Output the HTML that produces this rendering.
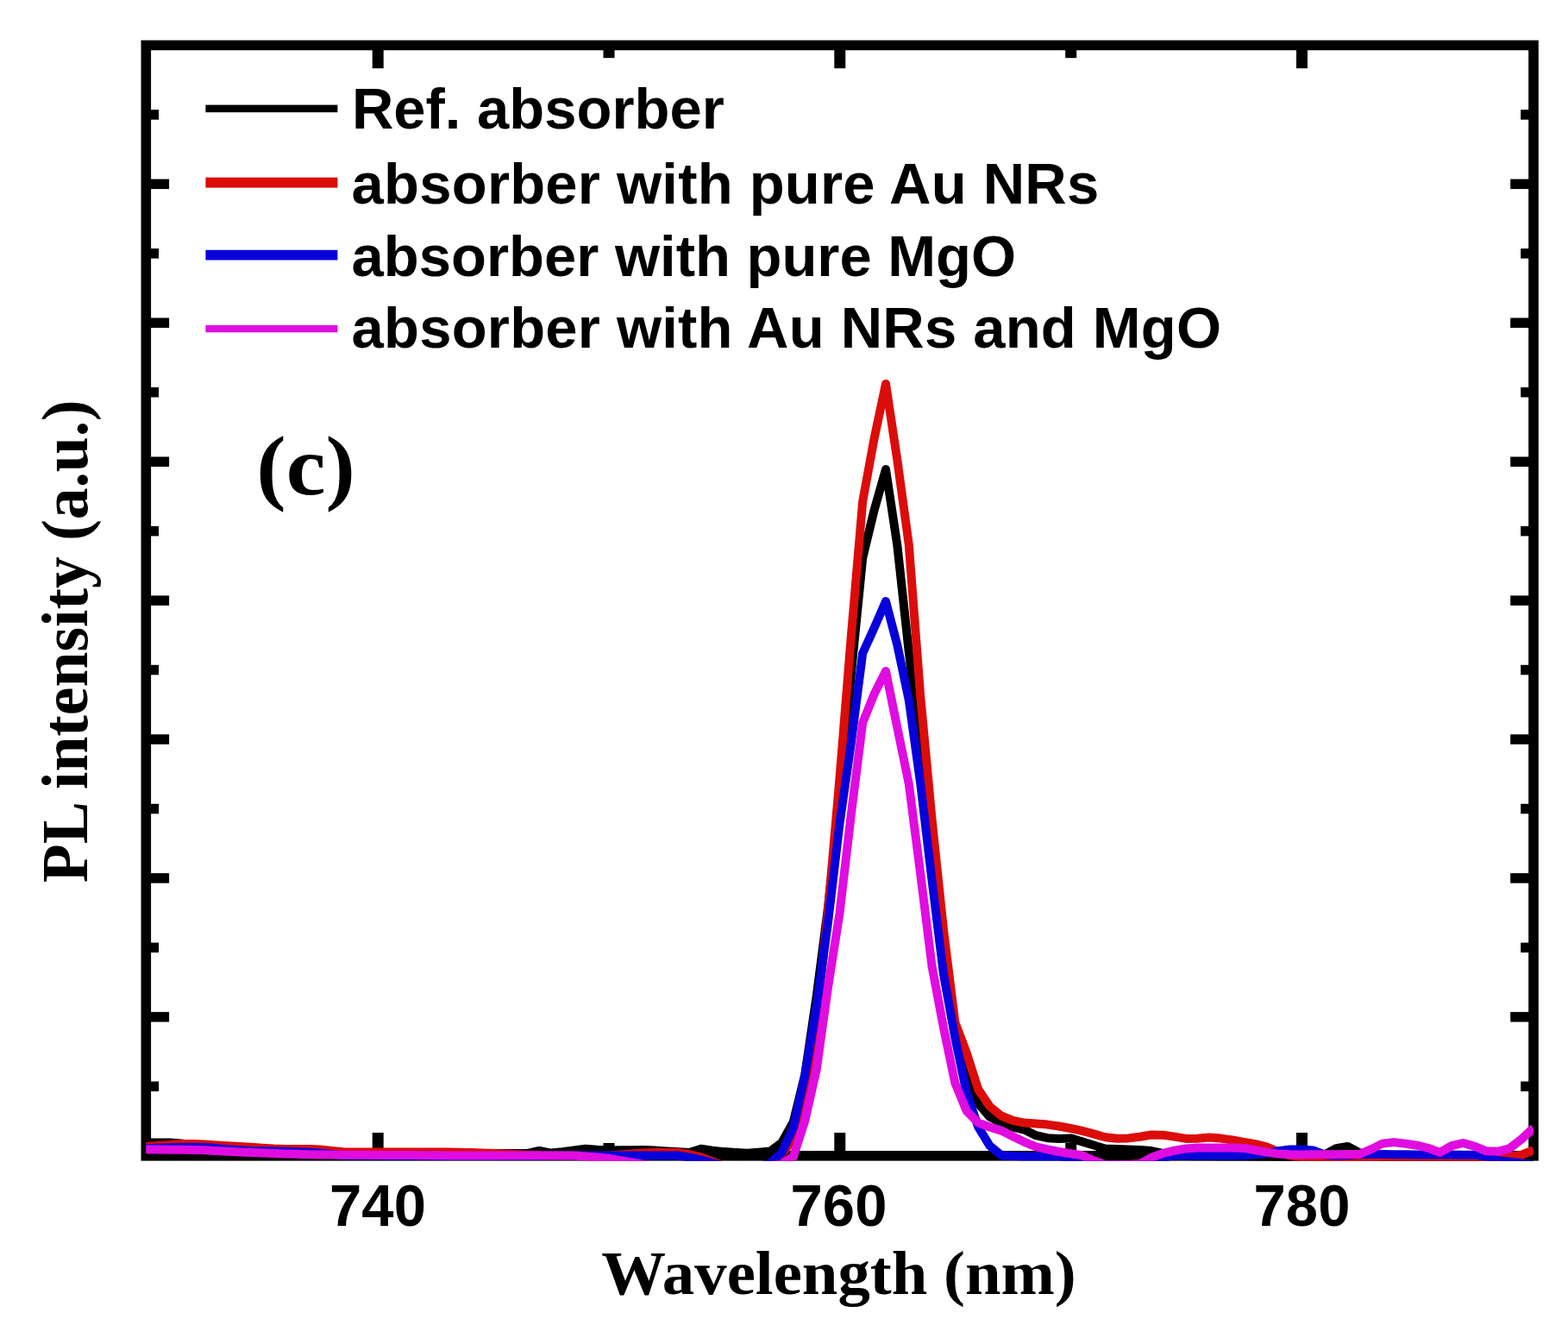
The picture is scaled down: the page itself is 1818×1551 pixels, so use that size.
<!DOCTYPE html>
<html><head><meta charset="utf-8"><style>
html,body{margin:0;padding:0;background:#fff;}
svg{display:block;}
.s{font-family:"Liberation Sans",Arial,sans-serif;font-weight:bold;}
.t{font-family:"Liberation Serif","Times New Roman",serif;font-weight:bold;}
</style></head><body>
<svg width="1818" height="1551" viewBox="0 0 1818 1551">
<rect width="1818" height="1551" fill="#fff"/>
<defs><clipPath id="pc"><rect x="169.3" y="0" width="1608.7" height="1345.8"/></clipPath></defs>
<rect x="169.3" y="52.45" width="1608.7" height="1287.35" fill="none" stroke="#000" stroke-width="11.6"/>
<g fill="#000"><rect x="431.7" y="1313.0" width="13" height="22"/><rect x="431.7" y="57.2" width="13" height="22"/><rect x="699.5" y="1325.0" width="13" height="10"/><rect x="699.5" y="57.2" width="13" height="10"/><rect x="967.3" y="1313.0" width="13" height="22"/><rect x="967.3" y="57.2" width="13" height="22"/><rect x="1235.2" y="1325.0" width="13" height="10"/><rect x="1235.2" y="57.2" width="13" height="10"/><rect x="1503.0" y="1313.0" width="13" height="22"/><rect x="1503.0" y="57.2" width="13" height="22"/><rect x="174.1" y="127.2" width="10" height="11.5"/><rect x="1763.2" y="127.2" width="10" height="11.5"/><rect x="174.1" y="207.6" width="22" height="11.5"/><rect x="1751.2" y="207.6" width="22" height="11.5"/><rect x="174.1" y="288.1" width="10" height="11.5"/><rect x="1763.2" y="288.1" width="10" height="11.5"/><rect x="174.1" y="368.5" width="22" height="11.5"/><rect x="1751.2" y="368.5" width="22" height="11.5"/><rect x="174.1" y="449.0" width="10" height="11.5"/><rect x="1763.2" y="449.0" width="10" height="11.5"/><rect x="174.1" y="529.5" width="22" height="11.5"/><rect x="1751.2" y="529.5" width="22" height="11.5"/><rect x="174.1" y="609.9" width="10" height="11.5"/><rect x="1763.2" y="609.9" width="10" height="11.5"/><rect x="174.1" y="690.4" width="22" height="11.5"/><rect x="1751.2" y="690.4" width="22" height="11.5"/><rect x="174.1" y="770.8" width="10" height="11.5"/><rect x="1763.2" y="770.8" width="10" height="11.5"/><rect x="174.1" y="851.3" width="22" height="11.5"/><rect x="1751.2" y="851.3" width="22" height="11.5"/><rect x="174.1" y="931.8" width="10" height="11.5"/><rect x="1763.2" y="931.8" width="10" height="11.5"/><rect x="174.1" y="1012.2" width="22" height="11.5"/><rect x="1751.2" y="1012.2" width="22" height="11.5"/><rect x="174.1" y="1092.7" width="10" height="11.5"/><rect x="1763.2" y="1092.7" width="10" height="11.5"/><rect x="174.1" y="1173.1" width="22" height="11.5"/><rect x="1751.2" y="1173.1" width="22" height="11.5"/><rect x="174.1" y="1253.6" width="10" height="11.5"/><rect x="1763.2" y="1253.6" width="10" height="11.5"/></g>
<g clip-path="url(#pc)" fill="none" stroke-width="10" stroke-linejoin="round" stroke-linecap="butt">
<path d="M169.0,1324.5 L170.0,1324.5 L183.4,1324.5 L196.8,1324.5 L210.2,1325.5 L223.6,1328.1 L237.0,1330.2 L250.4,1331.6 L263.8,1333.1 L277.2,1334.6 L290.5,1336.0 L303.9,1336.4 L317.3,1336.7 L330.7,1337.1 L344.1,1337.5 L357.5,1337.8 L370.9,1338.2 L384.3,1338.6 L397.7,1338.9 L411.1,1338.8 L424.4,1338.7 L437.8,1338.5 L451.2,1338.3 L464.6,1338.1 L478.0,1337.9 L491.4,1337.7 L504.8,1337.5 L518.2,1337.3 L531.6,1337.1 L545.0,1337.0 L558.3,1337.0 L571.7,1337.0 L585.1,1337.0 L598.5,1337.0 L611.9,1337.0 L625.3,1334.0 L638.7,1336.6 L652.1,1335.3 L665.5,1333.5 L678.9,1331.7 L692.2,1332.7 L705.6,1333.4 L719.0,1333.3 L732.4,1333.2 L745.8,1333.0 L759.2,1333.6 L772.6,1334.4 L786.0,1335.2 L799.4,1336.0 L812.8,1331.7 L826.1,1333.6 L839.5,1335.1 L852.9,1335.9 L866.3,1336.8 L879.7,1335.7 L893.1,1334.5 L906.5,1324.5 L919.9,1300.3 L933.3,1245.6 L946.7,1155.1 L960.0,1052.4 L973.4,925.6 L986.8,781.7 L1000.2,646.7 L1013.6,591.3 L1027.0,544.0 L1040.4,632.6 L1053.8,755.9 L1067.2,868.8 L1080.6,989.1 L1094.0,1103.9 L1107.3,1196.0 L1120.7,1245.0 L1134.1,1279.0 L1147.5,1294.7 L1160.9,1301.9 L1174.3,1306.7 L1187.7,1309.5 L1201.1,1316.2 L1214.5,1319.2 L1227.8,1319.9 L1241.2,1319.4 L1254.6,1323.4 L1268.0,1327.6 L1281.4,1331.5 L1294.8,1331.9 L1308.2,1332.4 L1321.6,1333.1 L1335.0,1334.1 L1348.4,1336.8 L1361.8,1340.0 L1375.1,1340.1 L1388.5,1340.2 L1401.9,1340.3 L1415.3,1340.4 L1428.7,1340.5 L1442.1,1340.6 L1455.5,1340.7 L1468.9,1340.8 L1482.3,1340.9 L1495.7,1341.0 L1509.0,1340.3 L1522.4,1339.3 L1535.8,1338.3 L1549.2,1331.1 L1562.6,1329.0 L1576.0,1336.2 L1589.4,1338.9 L1602.8,1341.0 L1616.2,1341.0 L1629.6,1341.0 L1642.9,1341.0 L1656.3,1341.0 L1669.7,1341.0 L1683.1,1341.0 L1696.5,1341.0 L1709.9,1341.0 L1723.3,1341.0 L1736.7,1341.0 L1750.1,1341.0 L1763.5,1341.0 L1776.8,1341.0 L1778.0,1341.0" stroke="#000"/>
<path d="M169.0,1329.0 L170.0,1328.9 L183.4,1327.9 L196.8,1326.9 L210.2,1326.0 L223.6,1326.0 L237.0,1326.6 L250.4,1327.5 L263.8,1328.2 L277.2,1329.0 L290.5,1329.8 L303.9,1330.7 L317.3,1331.5 L330.7,1332.0 L344.1,1332.0 L357.5,1332.0 L370.9,1332.6 L384.3,1333.9 L397.7,1335.3 L411.1,1335.5 L424.4,1335.5 L437.8,1335.5 L451.2,1335.5 L464.6,1335.5 L478.0,1335.5 L491.4,1335.5 L504.8,1335.5 L518.2,1335.5 L531.6,1335.8 L545.0,1336.1 L558.3,1336.5 L571.7,1337.0 L585.1,1337.5 L598.5,1338.1 L611.9,1338.7 L625.3,1339.1 L638.7,1339.2 L652.1,1339.4 L665.5,1339.6 L678.9,1339.7 L692.2,1339.9 L705.6,1339.6 L719.0,1338.6 L732.4,1337.6 L745.8,1336.6 L759.2,1336.0 L772.6,1336.0 L786.0,1336.0 L799.4,1338.1 L812.8,1341.4 L826.1,1346.5 L839.5,1351.8 L852.9,1352.0 L866.3,1352.0 L879.7,1352.0 L893.1,1349.1 L906.5,1337.7 L919.9,1320.2 L933.3,1276.5 L946.7,1184.3 L960.0,1056.0 L973.4,903.4 L986.8,738.1 L1000.2,581.4 L1013.6,508.3 L1027.0,445.0 L1040.4,533.7 L1053.8,631.6 L1067.2,807.1 L1080.6,950.4 L1094.0,1078.1 L1107.3,1185.0 L1120.7,1220.4 L1134.1,1262.6 L1147.5,1282.5 L1160.9,1293.5 L1174.3,1298.8 L1187.7,1301.6 L1201.1,1302.6 L1214.5,1303.6 L1227.8,1305.5 L1241.2,1308.0 L1254.6,1310.8 L1268.0,1314.4 L1281.4,1318.2 L1294.8,1319.8 L1308.2,1319.4 L1321.6,1317.7 L1335.0,1315.5 L1348.4,1315.7 L1361.8,1317.6 L1375.1,1319.9 L1388.5,1319.8 L1401.9,1318.6 L1415.3,1319.6 L1428.7,1321.5 L1442.1,1323.9 L1455.5,1326.2 L1468.9,1329.6 L1482.3,1335.3 L1495.7,1339.6 L1509.0,1340.9 L1522.4,1341.0 L1535.8,1341.0 L1549.2,1341.0 L1562.6,1341.0 L1576.0,1341.0 L1589.4,1341.0 L1602.8,1341.0 L1616.2,1341.0 L1629.6,1341.0 L1642.9,1341.0 L1656.3,1341.0 L1669.7,1341.0 L1683.1,1341.0 L1696.5,1341.0 L1709.9,1341.0 L1723.3,1341.0 L1736.7,1341.0 L1750.1,1340.5 L1763.5,1339.0 L1776.8,1333.6 L1778.0,1333.0" stroke="#dc0c0a"/>
<path d="M169.0,1331.0 L170.0,1331.0 L183.4,1330.7 L196.8,1330.3 L210.2,1330.0 L223.6,1329.7 L237.0,1330.0 L250.4,1331.1 L263.8,1332.2 L277.2,1333.3 L290.5,1334.1 L303.9,1334.2 L317.3,1334.4 L330.7,1334.7 L344.1,1335.2 L357.5,1335.7 L370.9,1336.6 L384.3,1337.9 L397.7,1339.3 L411.1,1339.5 L424.4,1339.6 L437.8,1339.6 L451.2,1339.7 L464.6,1339.7 L478.0,1339.8 L491.4,1339.8 L504.8,1339.9 L518.2,1339.9 L531.6,1340.0 L545.0,1340.0 L558.3,1339.9 L571.7,1339.9 L585.1,1339.8 L598.5,1339.8 L611.9,1339.7 L625.3,1339.7 L638.7,1339.6 L652.1,1339.6 L665.5,1339.5 L678.9,1339.5 L692.2,1339.5 L705.6,1339.5 L719.0,1339.5 L732.4,1339.5 L745.8,1339.5 L759.2,1339.5 L772.6,1339.5 L786.0,1339.5 L799.4,1341.6 L812.8,1344.5 L826.1,1348.1 L839.5,1351.9 L852.9,1352.0 L866.3,1352.0 L879.7,1352.0 L893.1,1348.5 L906.5,1335.8 L919.9,1306.8 L933.3,1246.6 L946.7,1166.9 L960.0,1069.6 L973.4,955.6 L986.8,861.3 L1000.2,757.2 L1013.6,727.8 L1027.0,697.0 L1040.4,748.0 L1053.8,811.8 L1067.2,908.1 L1080.6,1021.0 L1094.0,1129.5 L1107.3,1202.7 L1120.7,1266.6 L1134.1,1306.2 L1147.5,1328.1 L1160.9,1339.2 L1174.3,1340.1 L1187.7,1340.5 L1201.1,1340.5 L1214.5,1340.5 L1227.8,1340.5 L1241.2,1342.2 L1254.6,1344.2 L1268.0,1347.0 L1281.4,1350.0 L1294.8,1350.0 L1308.2,1350.0 L1321.6,1350.0 L1335.0,1347.8 L1348.4,1341.7 L1361.8,1339.4 L1375.1,1339.4 L1388.5,1339.4 L1401.9,1339.4 L1415.3,1339.4 L1428.7,1339.4 L1442.1,1339.2 L1455.5,1338.2 L1468.9,1337.1 L1482.3,1334.2 L1495.7,1332.5 L1509.0,1332.5 L1522.4,1333.4 L1535.8,1338.4 L1549.2,1339.5 L1562.6,1338.9 L1576.0,1338.2 L1589.4,1338.1 L1602.8,1338.1 L1616.2,1338.2 L1629.6,1338.3 L1642.9,1338.4 L1656.3,1338.4 L1669.7,1338.5 L1683.1,1338.6 L1696.5,1338.7 L1709.9,1338.7 L1723.3,1340.2 L1736.7,1345.2 L1750.1,1346.8 L1763.5,1348.3 L1776.8,1349.9 L1778.0,1350.0" stroke="#0700da"/>
<path d="M169.0,1332.5 L170.0,1332.5 L183.4,1332.6 L196.8,1332.7 L210.2,1332.8 L223.6,1332.9 L237.0,1333.3 L250.4,1334.1 L263.8,1334.8 L277.2,1335.5 L290.5,1336.1 L303.9,1336.6 L317.3,1337.0 L330.7,1337.4 L344.1,1337.8 L357.5,1338.3 L370.9,1338.5 L384.3,1338.6 L397.7,1338.7 L411.1,1338.8 L424.4,1338.8 L437.8,1338.9 L451.2,1339.0 L464.6,1339.1 L478.0,1339.1 L491.4,1339.2 L504.8,1339.3 L518.2,1339.4 L531.6,1339.4 L545.0,1339.5 L558.3,1339.5 L571.7,1339.5 L585.1,1339.5 L598.5,1339.5 L611.9,1339.5 L625.3,1339.5 L638.7,1339.5 L652.1,1339.5 L665.5,1339.5 L678.9,1340.4 L692.2,1341.4 L705.6,1342.9 L719.0,1345.2 L732.4,1347.4 L745.8,1349.6 L759.2,1351.9 L772.6,1352.0 L786.0,1352.0 L799.4,1352.0 L812.8,1352.0 L826.1,1352.0 L839.5,1352.0 L852.9,1352.0 L866.3,1352.0 L879.7,1352.0 L893.1,1351.5 L906.5,1349.4 L919.9,1340.7 L933.3,1299.0 L946.7,1239.8 L960.0,1144.6 L973.4,1059.2 L986.8,944.3 L1000.2,837.9 L1013.6,804.5 L1027.0,778.0 L1040.4,843.8 L1053.8,908.7 L1067.2,1012.9 L1080.6,1120.5 L1094.0,1191.2 L1107.3,1255.3 L1120.7,1287.8 L1134.1,1301.4 L1147.5,1306.5 L1160.9,1310.6 L1174.3,1317.2 L1187.7,1323.8 L1201.1,1329.3 L1214.5,1332.4 L1227.8,1335.0 L1241.2,1337.2 L1254.6,1339.2 L1268.0,1345.3 L1281.4,1350.0 L1294.8,1350.0 L1308.2,1350.0 L1321.6,1349.1 L1335.0,1341.8 L1348.4,1336.9 L1361.8,1333.7 L1375.1,1331.4 L1388.5,1330.5 L1401.9,1330.5 L1415.3,1330.5 L1428.7,1330.5 L1442.1,1330.9 L1455.5,1333.2 L1468.9,1335.6 L1482.3,1337.6 L1495.7,1338.2 L1509.0,1338.4 L1522.4,1338.3 L1535.8,1338.2 L1549.2,1338.2 L1562.6,1338.1 L1576.0,1338.0 L1589.4,1332.4 L1602.8,1325.6 L1616.2,1324.1 L1629.6,1325.7 L1642.9,1327.7 L1656.3,1331.0 L1669.7,1335.9 L1683.1,1328.1 L1696.5,1325.0 L1709.9,1328.9 L1723.3,1334.3 L1736.7,1334.8 L1750.1,1331.3 L1763.5,1321.0 L1776.8,1308.8 L1778.0,1308.0" stroke="#e00ce0"/>
</g>
<g>
<rect x="238.4" y="121.6" width="153" height="8.6" fill="#000"/>
<rect x="238.4" y="205.7" width="153" height="11.9" fill="#dc0c0a"/>
<rect x="238.4" y="289.8" width="153" height="11.7" fill="#0700da"/>
<rect x="238.4" y="376.9" width="153" height="8.4" fill="#e00ce0"/>
</g>
<g class="s" font-size="67" fill="#000">
<text x="407.9" y="148.6">Ref. absorber</text>
<text x="407.6" y="235.8" textLength="866.6" lengthAdjust="spacing">absorber with pure Au NRs</text>
<text x="407.6" y="319.6">absorber with pure MgO</text>
<text x="407.6" y="403.4" textLength="1008.5" lengthAdjust="spacing">absorber with Au NRs and MgO</text>
</g>
<g class="s" font-size="67" fill="#000" text-anchor="middle">
<text transform="translate(438,1421.3) scale(1,1.037)">740</text>
<text transform="translate(972.5,1421.3) scale(1,1.037)">760</text>
<text transform="translate(1509.5,1421.3) scale(1,1.037)">780</text>
</g>
<text class="t" font-size="98" fill="#000" transform="translate(297.3,573) scale(1.052,1)">(c)</text>
<text class="t" font-size="72" fill="#000" transform="translate(697.2,1499.5) scale(1.039,1)">Wavelength (nm)</text>
<text class="t" font-size="76" fill="#000" transform="translate(100.5,1023.3) rotate(-90) scale(0.968,1)">PL intensity (a.u.)</text>
</svg>
</body></html>
